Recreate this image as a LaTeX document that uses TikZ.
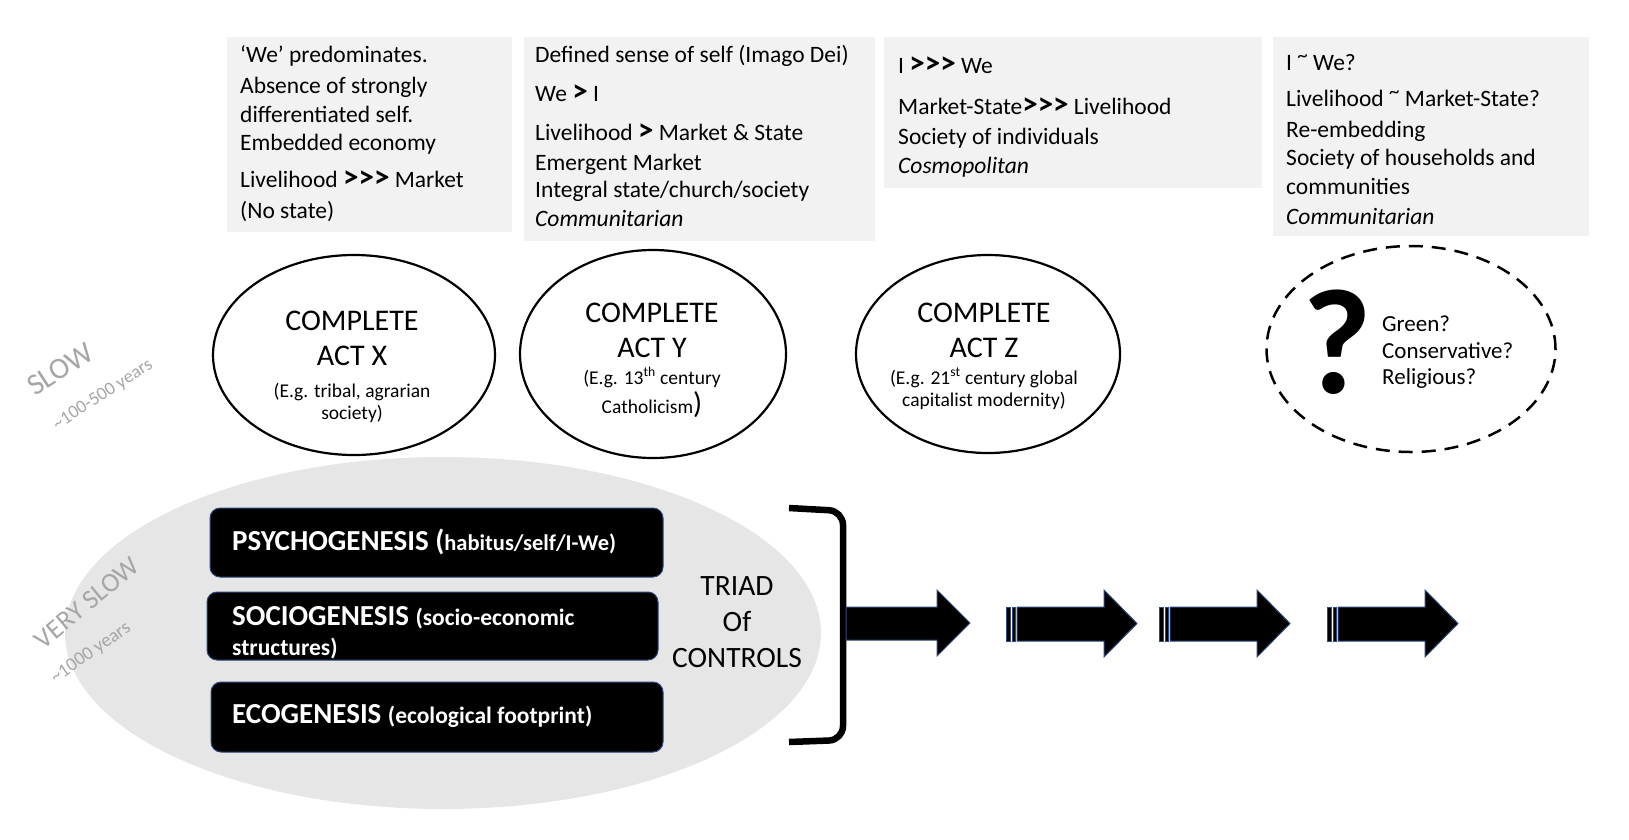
\documentclass[tikz,border=0pt]{standalone}
\usepackage{fontspec}
\setmainfont{Carlito}
\usetikzlibrary{shapes.geometric}
\definecolor{boxgray}{HTML}{F2F2F2}
\definecolor{ellgray}{HTML}{E6E6E6}
\definecolor{labgray}{HTML}{A6A6A6}
\definecolor{navy}{HTML}{2F4A7F}
\newcommand{\fsz}[1]{\fontsize{#1}{#1}\selectfont}
\newcommand{\gt}{{\bfseries\fsz{31}>}}
\newcommand{\gtt}{{\bfseries\fsz{31}>{}>{}>}}
\newcommand{\tld}{{\fsz{21}\raisebox{8pt}{\textasciitilde}}}
\begin{document}
\begin{tikzpicture}[x=1pt,y=-1pt,
  ln/.style={anchor=base west,inner sep=0pt,font=\fsz{23.5}},
  lc/.style={anchor=base,inner sep=0pt},
  topbox/.style={fill=boxgray,draw=none,inner sep=0pt,rectangle},
  act/.style={draw=black,line width=2.2pt,ellipse,inner sep=0pt},
  big/.style={lc,font=\fsz{30}},
  small/.style={lc,font=\fsz{19.5}},
  blackbox/.style={fill=black,draw=navy,line width=1pt,rounded corners=10pt,inner sep=0pt,rectangle},
  wt/.style={anchor=base west,inner sep=0pt,text=white,font=\bfseries\fsz{29}},
  lab/.style={text=labgray,inner sep=0pt},
  fat/.style={fill=black,draw=navy,line width=1pt}]
\path[use as bounding box] (0,0) rectangle (1629,839);

% background ellipse of the triad
\node[fill=ellgray,ellipse,inner sep=0pt,minimum width=756pt,minimum height=352pt] (triadbg) at (443,633) {};

% top boxes
\node[topbox,minimum width=285pt,minimum height=195pt] (b1) at (369.5,134.5) {};
\node[topbox,minimum width=351pt,minimum height=204pt] (b2) at (699.5,139) {};
\node[topbox,minimum width=378pt,minimum height=151pt] (b3) at (1073,112.5) {};
\node[topbox,minimum width=316pt,minimum height=199pt] (b4) at (1431,136.5) {};

\node[ln] (b1l1) at (240,62) {‘We’ predominates.};
\node[ln] (b1l2) at (240,93) {Absence of strongly};
\node[ln] (b1l3) at (240,122) {differentiated self.};
\node[ln] (b1l4) at (240,150) {Embedded economy};
\node[ln] (b1l5) at (240,187) {Livelihood \gtt{} Market};
\node[ln] (b1l6) at (240,218) {(No state)};

\node[ln] (b2l1) at (535,62) {Defined sense of self (Imago Dei)};
\node[ln] (b2l2) at (535,101) {We \gt{} I};
\node[ln] (b2l3) at (535,140) {Livelihood \gt{} Market \& State};
\node[ln] (b2l4) at (535,170) {Emergent Market};
\node[ln] (b2l5) at (535,197) {Integral state/church/society};
\node[ln] (b2l6) at (535,226) {\itshape Communitarian};

\node[ln] (b3l1) at (898,73) {I \gtt{} We};
\node[ln] (b3l2) at (898,114) {Market-State\gtt{} Livelihood};
\node[ln] (b3l3) at (898,144) {Society of individuals};
\node[ln] (b3l4) at (898,173) {\itshape Cosmopolitan};

\node[ln] (b4l1) at (1286,70) {I \tld{} We?};
\node[ln] (b4l2) at (1286,106) {Livelihood \tld{} Market-State?};
\node[ln] (b4l3) at (1286,137) {Re-embedding};
\node[ln] (b4l4) at (1286,165) {Society of households and};
\node[ln] (b4l5) at (1286,194) {communities};
\node[ln] (b4l6) at (1286,224) {\itshape Communitarian};

% acts
\node[act,minimum width=282pt,minimum height=200pt] (ex) at (354,355) {};
\node[act,minimum width=266pt,minimum height=208pt] (ey) at (653,354) {};
\node[act,minimum width=264pt,minimum height=198pt] (ez) at (988,354) {};
\node[act,dash pattern=on 14pt off 9pt,line width=2.5pt,minimum width=289pt,minimum height=206pt] (eq) at (1411,349) {};

\node[big] (x1) at (352,330) {COMPLETE};
\node[big] (x2) at (352,365) {ACT X};
\node[small] (x3) at (352,397) {(E.g. tribal, agrarian};
\node[small] (x4) at (352,419) {society)};

\node[big] (y1) at (652,322) {COMPLETE};
\node[big] (y2) at (652,357) {ACT Y};
\node[small] (y3) at (652,384) {(E.g. 13\textsuperscript{th} century};
\node[small] (y4) at (652,413) {Catholicism{\fsz{30})}};

\node[big] (z1) at (984,322) {COMPLETE};
\node[big] (z2) at (984,357) {ACT Z};
\node[small] (z3) at (984,384) {(E.g. 21\textsuperscript{st} century global};
\node[small] (z4) at (984,406) {capitalist modernity)};

\node[lc,font=\bfseries\fsz{150}] (qm) at (1337,393) {?};
\node[anchor=base west,inner sep=0pt,font=\fsz{23}] (q1) at (1382,331) {Green?};
\node[anchor=base west,inner sep=0pt,font=\fsz{23}] (q2) at (1382,358) {Conservative?};
\node[anchor=base west,inner sep=0pt,font=\fsz{23}] (q3) at (1382,384) {Religious?};

% speed labels
\node[lab,rotate=33,font=\fsz{30}] (slow) at (60,369) {SLOW};
\node[lab,rotate=33,font=\fsz{18.5}] (slowyrs) at (103,395) {\textasciitilde100-500 years};
\node[lab,rotate=39.5,font=\fsz{27}] (vslow) at (87,603) {VERY SLOW};
\node[lab,rotate=35,font=\fsz{19}] (vslowyrs) at (91,653) {\textasciitilde1000 years};

% triad boxes
\node[blackbox,minimum width=453pt,minimum height=69pt] (psy) at (436.5,542.5) {};
\node[blackbox,minimum width=451pt,minimum height=68pt] (soc) at (432.5,626) {};
\node[blackbox,minimum width=452pt,minimum height=70pt] (eco) at (437,717) {};

\node[wt] (psyt) at (232,550) {PSYCHOGENESIS ({\fsz{22.5}habitus/self/I-We)}};
\node[wt] (soct) at (232,625) {SOCIOGENESIS {\fsz{23.5}(socio-economic}};
\node[wt,font=\bfseries\fsz{23.5}] (soct2) at (232,655) {structures)};
\node[wt] (ecot) at (232,723) {ECOGENESIS {\fsz{23.5}(ecological footprint)}};

\node[lc,font=\fsz{29.5}] (t1) at (737,595) {TRIAD};
\node[lc,font=\fsz{29.5}] (t2) at (737,631) {Of};
\node[lc,font=\fsz{29.5}] (t3) at (737,667) {CONTROLS};

% bracket
\draw[line width=6.5pt,rounded corners=14pt] (789,508) -- (843,511) -- (843,740) -- (789,742);

% arrows
\path[fat] (846,607) -- (937,607) -- (937,590) -- (970,623) -- (937,656) -- (937,640) -- (846,640) -- cycle;
\foreach \s in {1006,1159,1327}{
  \path[fat] (\s,607) rectangle (\s+4,641);
  \path[fat] (\s+6,607) rectangle (\s+9,641);
  \path[fat] (\s+11,607) -- (\s+98,607) -- (\s+98,590) -- (\s+131,623.5) -- (\s+98,657) -- (\s+98,641) -- (\s+11,641) -- cycle;
}
\end{tikzpicture}
\end{document}
